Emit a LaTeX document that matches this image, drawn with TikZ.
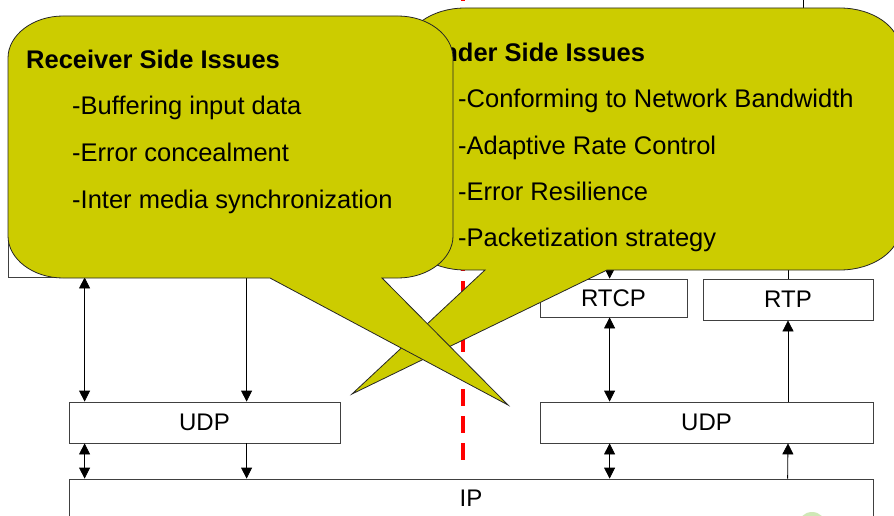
\documentclass[tikz,border=0pt]{standalone}
\usepackage{fontspec}
\setmainfont{Liberation Sans}
\usepackage{xcolor}
\usetikzlibrary{arrows.meta,calc}
\definecolor{calloutyellow}{RGB}{204,204,0}
\definecolor{logogreen}{RGB}{160,210,110}

\begin{document}
\begin{tikzpicture}[x=1pt,y=-1pt,
    layer/.style={draw=black!75,line width=0.8pt,fill=white,inner sep=0pt,
      font=\fontsize{24}{28}\selectfont},
    link/.style={line width=0.8pt},
    tip/.style={-{Triangle[length=11pt,width=11pt]}},
    both/.style={{Triangle[length=11pt,width=11pt]}-{Triangle[length=11pt,width=11pt]}},
    callout/.style={draw=black!85,line width=0.8pt,fill=calloutyellow},
    issue/.style={anchor=base west,inner sep=0pt,font=\fontsize{25.5}{30}\selectfont},
    heading/.style={issue,font=\bfseries\fontsize{25.5}{30}\selectfont}]
\useasboundingbox (0,0) rectangle (894,516);
\clip (0,0) rectangle (894,516);

% protocol stack
\node[layer,minimum width=332pt,minimum height=187pt] (recvapp) at (174,183.5) {};
\node[layer,minimum width=271pt,minimum height=41pt] (udpL) at (204.5,422.5) {UDP};
\node[layer,minimum width=333pt,minimum height=41pt] (udpR) at (706.5,422.5) {UDP};
\node[layer,minimum width=147pt,minimum height=38pt] (rtcp) at (613.5,298) {RTCP};
\node[layer,minimum width=170pt,minimum height=41pt] (rtp) at (788,299.5) {RTP};
\node[layer,minimum width=804pt,minimum height=38.5pt] (ip) at (471,498.25) {IP};
\fill[logogreen,opacity=.5] (812,526) circle (14);

% left side
\draw[link,both] ($(recvapp.south west)+(77,0)$) -- ($(udpL.north west)+(16,0)$);
\draw[link,tip] ($(recvapp.south west)+(239,0)$) -- ($(udpL.north west)+(178,0)$);
\draw[link,both] ($(udpL.south west)+(16,0)$) -- ($(ip.north west)+(16,0)$);
\draw[link,tip] ($(udpL.south west)+(178,0)$) -- ($(ip.north west)+(178,0)$);

% right side
\coordinate (rtcpin) at (610,220);
\coordinate (rtpout) at (788,220);
\coordinate (apptop) at (803,-2);
\coordinate (appbase) at (803,60);
\draw[link] (apptop) -- (appbase);
\draw[link,tip] (rtcpin) -- ($(rtcp.north west)+(70,0)$);
\draw[link,tip] (rtp.north) -- (rtpout);
\draw[link,both] ($(rtcp.south west)+(70,0)$) -- ($(udpR.north west)+(70,0)$);
\draw[link,tip] (udpR.north -| rtp.south) -- (rtp.south);
\draw[link,both] ($(udpR.south west)+(70,0)$) -- ($(ip.north west)+(541,0)$);
\draw[link,tip] ($(ip.north west)+(719,0)$) -- (udpR.south -| rtp.south);

% divider
\coordinate (divtop) at (463,-16);
\coordinate (divbot) at (463,460);
\draw[red,line width=3.5pt,dash pattern=on 17pt off 10pt] (divtop) -- (divbot);

% sender callout
\draw[callout] (465,8) -- (840,8) .. controls +(33,0) and +(0,-23) .. (900,50)
  -- (900,228) .. controls +(0,23) and +(33,0) .. (840,270)
  -- (607,270) -- (352,394) -- (485,270)
  -- (465,270) .. controls +(-33,0) and +(0,23) .. (405,228)
  -- (405,50) .. controls +(0,-23) and +(-33,0) .. (465,8) -- cycle;
\node[heading] (sendhead) at (411,62) {Sender Side Issues};
\foreach \txt [count=\i] in {-Conforming to Network Bandwidth,-Adaptive Rate Control,
    -Error Resilience,-Packetization strategy}
  \node[issue] (send\i) at (458,{108+46.2*(\i-1)}) {\txt};

% receiver callout
\draw[callout] (63,16) -- (398,16) .. controls +(30,0) and +(0,-23) .. (453,58)
  -- (453,236) .. controls +(0,23) and +(30,0) .. (398,278)
  -- (382,278) -- (508,405) -- (270,278)
  -- (63,278) .. controls +(-30,0) and +(0,23) .. (8,236)
  -- (8,58) .. controls +(0,-23) and +(-30,0) .. (63,16) -- cycle;
\node[heading] (recvhead) at (26,69) {Receiver Side Issues};
\foreach \txt [count=\i] in {-Buffering input data,-Error concealment,
    -Inter media synchronization}
  \node[issue] (recv\i) at (72,{115+46.5*(\i-1)}) {\txt};
\end{tikzpicture}
\end{document}
